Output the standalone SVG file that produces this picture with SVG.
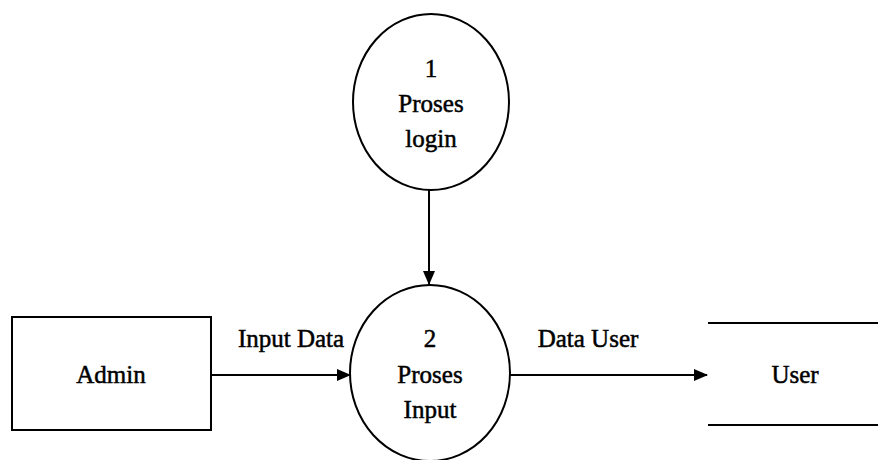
<svg xmlns="http://www.w3.org/2000/svg" width="878" height="460" viewBox="0 0 878 460">
<style>
.s{fill:none;stroke:#000;stroke-width:2}
.t{font-family:"Liberation Serif","Times New Roman",serif;font-size:25px;fill:#000;stroke:#000;stroke-width:0.5;text-anchor:middle}
</style>
<defs>
<marker id="ah" markerWidth="14" markerHeight="12" refX="13" refY="6" orient="auto" markerUnits="userSpaceOnUse">
<path d="M0,0 L14,6 L0,12 Z" fill="#000"/>
</marker>
</defs>
<rect width="878" height="460" fill="#fff"/>
<g id="p1">
<ellipse class="s" cx="431" cy="102" rx="78" ry="88"/>
<text class="t" x="431" y="77">1</text>
<text class="t" x="431" y="112">Proses</text>
<text class="t" x="431" y="147">login</text>
</g>
<g id="p2">
<ellipse class="s" cx="430" cy="373" rx="80" ry="88"/>
<text class="t" x="430" y="347">2</text>
<text class="t" x="430" y="383">Proses</text>
<text class="t" x="430" y="418">Input</text>
</g>
<g id="admin">
<rect class="s" x="12" y="317" width="199" height="113"/>
<text class="t" x="111" y="383">Admin</text>
</g>
<g id="user">
<line class="s" x1="708" y1="323" x2="878" y2="323"/>
<line class="s" x1="708" y1="425" x2="878" y2="425"/>
<text class="t" x="795" y="383">User</text>
</g>
<g id="connectors">
<line class="s" x1="429" y1="190" x2="429" y2="284" marker-end="url(#ah)"/>
<line class="s" x1="211" y1="375" x2="350" y2="375" marker-end="url(#ah)"/>
<text class="t" x="291" y="347">Input Data</text>
<line class="s" x1="510" y1="375" x2="707" y2="375" marker-end="url(#ah)"/>
<text class="t" x="588" y="347">Data User</text>
</g>
</svg>
